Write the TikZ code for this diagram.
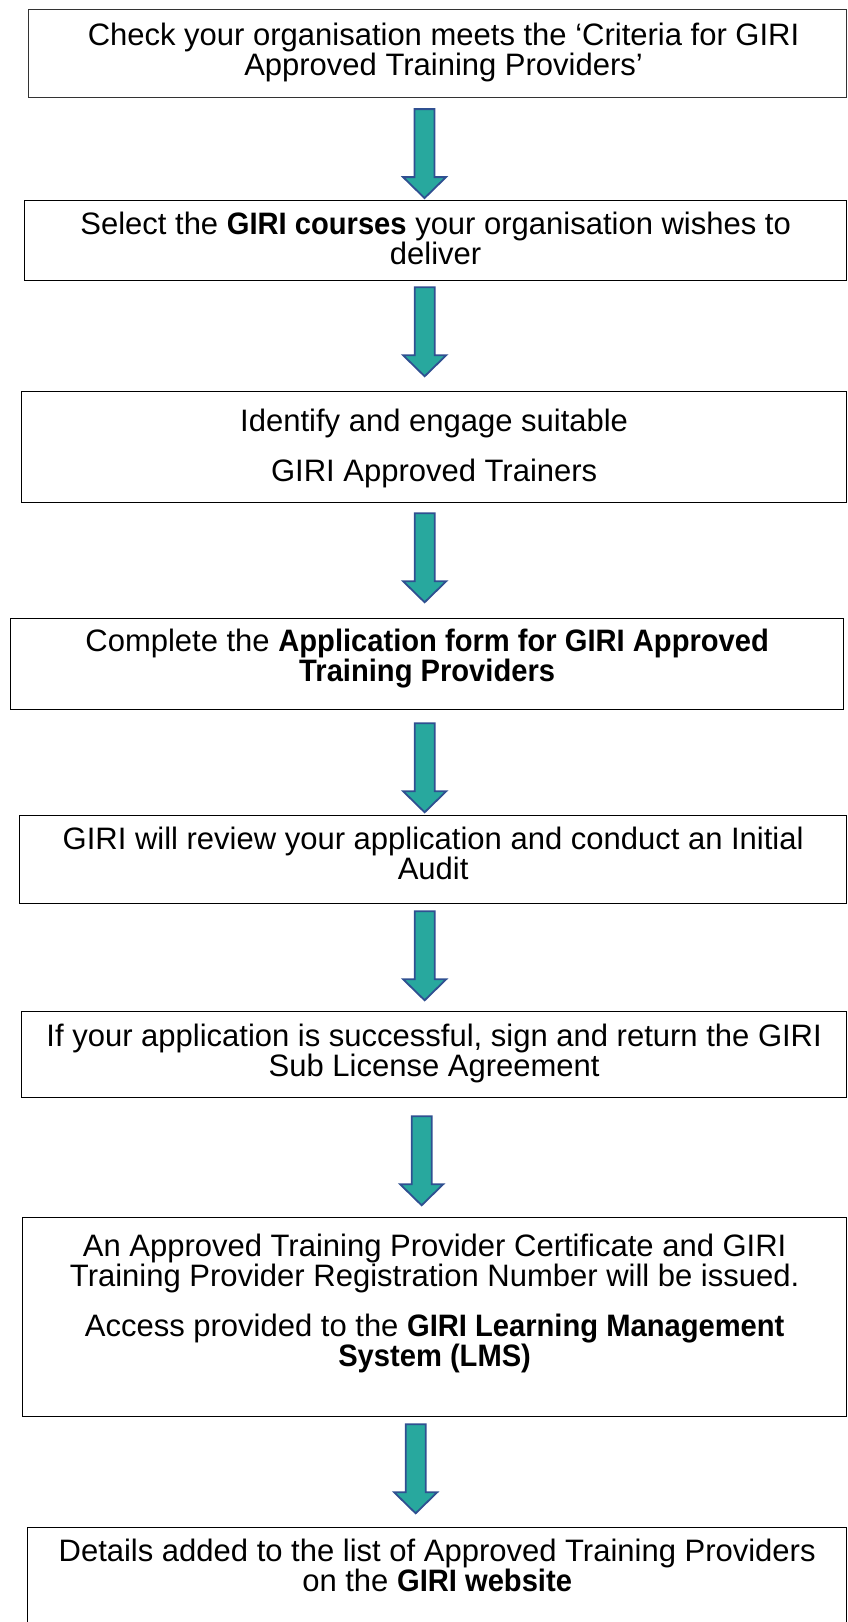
\documentclass[tikz,border=0pt]{standalone}
\usepackage{fontspec}
\setmainfont{Liberation Sans}[BoldFeatures={FakeStretch=0.94}]
\definecolor{arrowfill}{RGB}{40,168,158}
\definecolor{arrowline}{RGB}{47,80,145}
\tikzset{
  stepbox/.style={draw=black, line width=1.3pt, inner sep=0pt, anchor=north west},
  downblock/.pic={\draw[fill=arrowfill, draw=arrowline, line width=1.8pt, line join=miter]
    (-10,0) -- (10,0) -- (10,68) -- (21.5,68) -- (0,89) -- (-21.5,68) -- (-10,68) -- cycle;}
}
% box text: width, height, top gap, lines
\newcommand{\boxtext}[4]{\parbox[c][#2pt][t]{#1pt}{\centering\vspace*{#3pt}#4}}
\begin{document}
\begin{tikzpicture}[x=1pt,y=-1pt,every node/.style={font=\fontsize{31}{26}\selectfont}]
\useasboundingbox (0,0) rectangle (847,1622);
% the steps
\node[stepbox, draw=black!80, line width=1.1pt] (criteria) at (28,9) {\boxtext{818}{88}{13.5}{\hspace*{12pt}Check your organisation meets the ‘Criteria for GIRI\\\hspace*{12pt}Approved Training Providers’}};
\node[stepbox] (courses) at (24,200) {\boxtext{822}{80}{11.5}{Select the \textbf{GIRI courses} your organisation wishes to\\deliver}};
\node[stepbox] (trainers) at (21,391) {\boxtext{825}{111}{17.5}{Identify and engage suitable\\[20pt]GIRI Approved Trainers}};
\node[stepbox] (form) at (10,618) {\boxtext{833}{91}{10.5}{Complete the \textbf{Application form for GIRI Approved}\\\textbf{Training Providers}}};
\node[stepbox] (audit) at (19,815) {\boxtext{827}{88}{11.5}{GIRI will review your application and conduct an Initial\\Audit}};
\node[stepbox] (licence) at (21,1011) {\boxtext{825}{86}{12.5}{If your application is successful, sign and return the GIRI\\Sub License Agreement}};
\node[stepbox] (certificate) at (22,1217) {\boxtext{824}{199}{16.5}{An Approved Training Provider Certificate and GIRI\\Training Provider Registration Number will be issued.\\[20pt]Access provided to the \textbf{GIRI Learning Management}\\\textbf{System (LMS)}}};
\node[stepbox] (website) at (27,1527) {\boxtext{819}{120}{11.5}{Details added to the list of Approved Training Providers\\on the \textbf{GIRI website}}};
% block arrows between the steps
\pic at ([xshift=-13pt,yshift=-11pt]criteria.south) {downblock};
\pic at ([xshift=-11pt,yshift=-6pt]courses.south) {downblock};
\pic at ([xshift=-9.5pt,yshift=-10pt]trainers.south) {downblock};
\pic at ([xshift=-2.5pt,yshift=-13pt]form.south) {downblock};
\pic at ([xshift=-8.5pt,yshift=-7pt]audit.south) {downblock};
\pic at ([xshift=-12.5pt,yshift=-18pt]licence.south) {downblock};
\pic at ([xshift=-19pt,yshift=-7pt]certificate.south) {downblock};
\end{tikzpicture}
\end{document}
